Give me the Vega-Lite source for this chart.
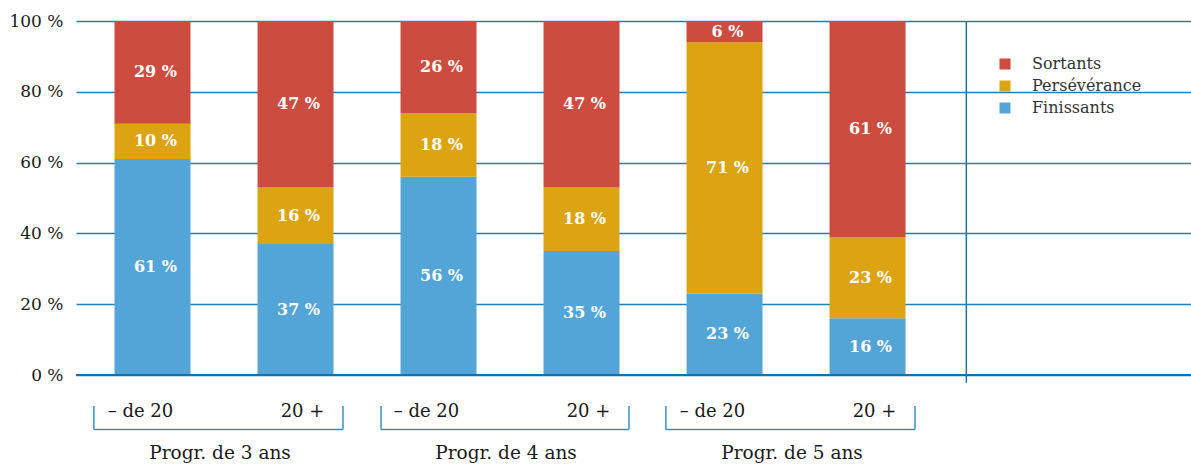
{
  "$schema": "https://vega.github.io/schema/vega-lite/v6.json",
  "width": 1115,
  "height": 354,
  "autosize": "none",
  "padding": {"left": 76, "top": 21, "right": 0, "bottom": 89},
  "background": "white",
  "config": {
    "view": {"stroke": null},
    "font": "DejaVu Serif",
    "axis": {"labelFont": "DejaVu Serif"}
  },
  "datasets": {
    "bars": [
      {"pos": 0, "group": "Progr. de 3 ans", "age": "– de 20", "cat": "Finissants", "value": 61},
      {"pos": 0, "group": "Progr. de 3 ans", "age": "– de 20", "cat": "Persévérance", "value": 10},
      {"pos": 0, "group": "Progr. de 3 ans", "age": "– de 20", "cat": "Sortants", "value": 29},
      {"pos": 1, "group": "Progr. de 3 ans", "age": "20 +", "cat": "Finissants", "value": 37},
      {"pos": 1, "group": "Progr. de 3 ans", "age": "20 +", "cat": "Persévérance", "value": 16},
      {"pos": 1, "group": "Progr. de 3 ans", "age": "20 +", "cat": "Sortants", "value": 47},
      {"pos": 2, "group": "Progr. de 4 ans", "age": "– de 20", "cat": "Finissants", "value": 56},
      {"pos": 2, "group": "Progr. de 4 ans", "age": "– de 20", "cat": "Persévérance", "value": 18},
      {"pos": 2, "group": "Progr. de 4 ans", "age": "– de 20", "cat": "Sortants", "value": 26},
      {"pos": 3, "group": "Progr. de 4 ans", "age": "20 +", "cat": "Finissants", "value": 35},
      {"pos": 3, "group": "Progr. de 4 ans", "age": "20 +", "cat": "Persévérance", "value": 18},
      {"pos": 3, "group": "Progr. de 4 ans", "age": "20 +", "cat": "Sortants", "value": 47},
      {"pos": 4, "group": "Progr. de 5 ans", "age": "– de 20", "cat": "Finissants", "value": 23},
      {"pos": 4, "group": "Progr. de 5 ans", "age": "– de 20", "cat": "Persévérance", "value": 71},
      {"pos": 4, "group": "Progr. de 5 ans", "age": "– de 20", "cat": "Sortants", "value": 6},
      {"pos": 5, "group": "Progr. de 5 ans", "age": "20 +", "cat": "Finissants", "value": 16},
      {"pos": 5, "group": "Progr. de 5 ans", "age": "20 +", "cat": "Persévérance", "value": 23},
      {"pos": 5, "group": "Progr. de 5 ans", "age": "20 +", "cat": "Sortants", "value": 61}
    ],
    "brackets": [
      {"group": "Progr. de 3 ans", "start": -0.41, "end": 1.332},
      {"group": "Progr. de 4 ans", "start": 1.598, "end": 3.332},
      {"group": "Progr. de 5 ans", "start": 3.59, "end": 5.332}
    ]
  },
  "layer": [
    {
      "data": {"name": "bars"},
      "transform": [
        {"stack": "value", "groupby": ["pos"], "sort": [{"field": "cat", "order": "ascending"}], "as": ["y0", "y1"]}
      ],
      "mark": {"type": "bar", "size": 76},
      "encoding": {
        "x": {"field": "pos", "type": "quantitative", "scale": {"domain": [-0.535, 7.262], "nice": false, "zero": false, "padding": 0}, "axis": null},
        "y": {"field": "y1", "type": "quantitative", "scale": {"domain": [0, 100], "nice": false, "zero": false},
          "axis": {"values": [0, 20, 40, 60, 80, 100], "title": null, "domain": false, "ticks": false, "grid": true, "gridColor": "#1f80b8", "gridWidth": 1.5, "labelFontSize": 17, "labelColor": "#1a1a1a", "labelPadding": 13, "labelExpr": "datum.value + ' %'"}},
        "y2": {"field": "y0"},
        "color": {"field": "cat", "type": "nominal",
          "scale": {"domain": ["Sortants", "Persévérance", "Finissants"], "range": ["#cc4c3f", "#dca313", "#53a5d8"]},
          "legend": {"title": null, "orient": "none", "legendX": 921, "legendY": 35, "padding": 0, "symbolType": "square", "symbolSize": 121, "symbolStrokeWidth": 0, "labelFont": "DejaVu Serif", "labelFontSize": 16, "labelColor": "#333333", "labelOffset": 19, "rowPadding": 6}}
      }
    },
    {
      "data": {"name": "bars"},
      "transform": [
        {"stack": "value", "groupby": ["pos"], "sort": [{"field": "cat", "order": "ascending"}], "as": ["y0", "y1"]},
        {"calculate": "(datum.y0 + datum.y1) / 2", "as": "ymid"},
        {"calculate": "datum.value + ' %'", "as": "label"}
      ],
      "mark": {"type": "text", "color": "white", "fontWeight": "bold", "fontSize": 16, "font": "DejaVu Serif", "baseline": "middle", "dx": 3},
      "encoding": {
        "x": {"field": "pos", "type": "quantitative"},
        "y": {"field": "ymid", "type": "quantitative"},
        "text": {"field": "label"}
      }
    },
    {
      "data": {"values": [{}]},
      "mark": {"type": "rule", "color": "#0f72aa", "strokeWidth": 2},
      "encoding": {"y": {"datum": 0}}
    },
    {
      "data": {"values": [{}]},
      "mark": {"type": "rule", "color": "#1577b0", "strokeWidth": 1.5},
      "encoding": {"x": {"datum": 5.691}, "y": {"datum": 100}, "y2": {"datum": -2.2}}
    },
    {
      "data": {"name": "brackets"},
      "mark": {"type": "rule", "color": "#3b8fc0", "strokeWidth": 1.5},
      "encoding": {"x": {"field": "start", "type": "quantitative"}, "x2": {"field": "end"}, "y": {"datum": -15.4}}
    },
    {
      "data": {"name": "brackets"},
      "transform": [{"fold": ["start", "end"], "as": ["side", "xv"]}],
      "mark": {"type": "rule", "color": "#3b8fc0", "strokeWidth": 1.5},
      "encoding": {"x": {"field": "xv", "type": "quantitative"}, "y": {"datum": -8.76}, "y2": {"datum": -15.4}}
    },
    {
      "data": {"name": "bars"},
      "transform": [{"filter": "datum.cat === 'Finissants' && datum.age === '– de 20'"}],
      "mark": {"type": "text", "fontSize": 18, "font": "DejaVu Serif", "color": "#1a1a1a", "baseline": "middle", "dx": -12},
      "encoding": {"x": {"field": "pos", "type": "quantitative"}, "y": {"datum": -10.45}, "text": {"field": "age"}}
    },
    {
      "data": {"name": "bars"},
      "transform": [{"filter": "datum.cat === 'Finissants' && datum.age === '20 +'"}],
      "mark": {"type": "text", "fontSize": 18, "font": "DejaVu Serif", "color": "#1a1a1a", "baseline": "middle", "dx": 7},
      "encoding": {"x": {"field": "pos", "type": "quantitative"}, "y": {"datum": -10.45}, "text": {"field": "age"}}
    },
    {
      "data": {"name": "bars"},
      "transform": [{"filter": "datum.cat === 'Finissants'"}],
      "mark": {"type": "text", "fontSize": 18.5, "font": "DejaVu Serif", "color": "#1a1a1a", "baseline": "middle", "dx": -4},
      "encoding": {"x": {"aggregate": "mean", "field": "pos", "type": "quantitative"}, "y": {"datum": -22}, "detail": {"field": "group"}, "text": {"field": "group"}}
    }
  ]
}
